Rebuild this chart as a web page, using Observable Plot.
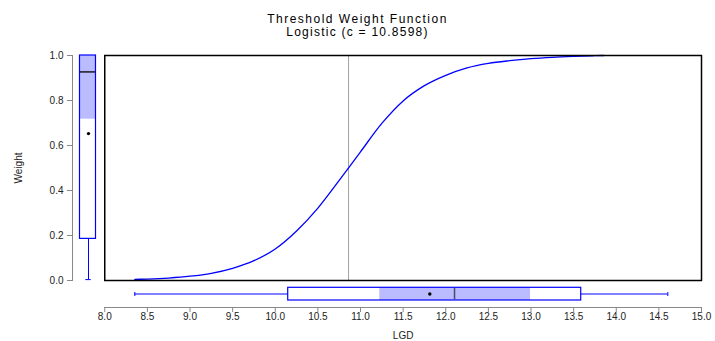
<!DOCTYPE html>
<html>
<head>
<meta charset="utf-8">
<script src="https://cdn.jsdelivr.net/npm/d3@7"></script>
<script src="https://cdn.jsdelivr.net/npm/@observablehq/plot@0.6"></script>
<style>
  body { margin: 0; background: #fff; }
  #chart { position: relative; width: 715px; height: 341px; font-family: "Liberation Sans", Arial, sans-serif; }
  #chart svg { position: absolute; left: 0; top: 0; }
  .ttl { position: absolute; left: 0; width: 715px; text-align: center; font-size: 12px; line-height: 12px; color: #000; white-space: nowrap; }
</style>
</head>
<body>
<div id="chart"></div>
<script>
// ---- data ----
const titleText = "Threshold Weight Function";
const subtitleText = "Logistic (c = 10.8598)";
const threshold = 10.8598;

// logistic weight curve (LGD -> weight)
const curveLGD    = [8.353, 8.5, 8.75, 9.0, 9.25, 9.5, 9.75, 10.0, 10.25, 10.5, 10.75, 11.0, 11.25, 11.5, 11.75, 12.0, 12.25, 12.5, 12.75, 13.0, 13.25, 13.5, 13.75, 13.854];
const curveWeight = [0.005, 0.0065, 0.011, 0.019, 0.032, 0.054, 0.088, 0.140, 0.220, 0.322, 0.445, 0.572, 0.698, 0.798, 0.866, 0.912, 0.945, 0.965, 0.977, 0.986, 0.992, 0.996, 0.999, 1.0];

// LGD box plot (bottom)
const lgdWhisker = [8.353, 14.605];
const lgdBox     = [10.152, 13.589];
const lgdShade   = [11.226, 12.994];
const lgdMedian  = [12.103];
const lgdMean    = [11.813];

// Weight box plot (left)
const wWhisker = [0.004, 1.0];
const wBox     = [0.185, 1.0];
const wShade   = [0.717, 1.0];
const wMedian  = [0.927];
const wMean    = [0.653];

const xTicks = [8, 8.5, 9, 9.5, 10, 10.5, 11, 11.5, 12, 12.5, 13, 13.5, 14, 14.5, 15];
const yTicks = [0, 0.2, 0.4, 0.6, 0.8, 1.0];

// ---- layout ----
const W = 715, H = 341;
const mL = 104.25, mR = 14, mT = 55, mB = 61;
const BLUE = "#0000ff", SHADE = "#bbbbff", AXIS = "#888888", TXT = "#222222";
const fmt = d3.format(".1f");
const baseStyle = { background: "transparent", fontFamily: "'Liberation Sans', Arial, sans-serif", fontSize: "10px", overflow: "visible" };

const curve = curveLGD.map((x, i) => ({ lgd: x, w: curveWeight[i] }));
const chart = document.getElementById("chart");

// main panel
const main = Plot.plot({
  width: W, height: H, marginLeft: mL, marginRight: mR, marginTop: mT, marginBottom: mB,
  style: baseStyle,
  x: { domain: [8, 15], axis: null },
  y: { domain: [0, 1], axis: null },
  marks: [
    Plot.ruleX([threshold], { stroke: "#a0a0a0", strokeWidth: 1 }),
    Plot.line(curve, { x: "lgd", y: "w", stroke: BLUE, strokeWidth: 1.3, curve: "monotone-x" }),
    Plot.frame({ stroke: "#000", strokeWidth: 1.5 })
  ]
});

// bottom: LGD box plot + x axis
const band = ["LGD"];
const bottom = Plot.plot({
  width: W, height: H, marginLeft: mL, marginRight: mR, marginTop: 280, marginBottom: 34,
  style: baseStyle,
  x: { domain: [8, 15] },
  y: { type: "band", domain: band, padding: 0, axis: null },
  marks: [
    Plot.axisX({ anchor: "bottom", ticks: xTicks, tickFormat: fmt, tickSize: 5, tickPadding: 0.5, stroke: AXIS, color: TXT,
      label: "LGD", labelAnchor: "center", labelArrow: "none", labelOffset: 31, fontSize: 10 }),
    Plot.frame({ anchor: "bottom", stroke: AXIS }),
    Plot.ruleY(band, { x1: lgdWhisker[0], x2: lgdWhisker[1], stroke: BLUE, strokeWidth: 1 }),
    Plot.tickX(lgdWhisker, { x: d => d, y: () => "LGD", stroke: BLUE, insetTop: 12, insetBottom: 11 }),
    Plot.barX([lgdBox], { x1: d => d[0], x2: d => d[1], y: () => "LGD", fill: "white", insetTop: 7.3, insetBottom: 7 }),
    Plot.barX([lgdShade], { x1: d => d[0], x2: d => d[1], y: () => "LGD", fill: SHADE, insetTop: 7.3, insetBottom: 7 }),
    Plot.barX([lgdBox], { x1: d => d[0], x2: d => d[1], y: () => "LGD", fill: "none", stroke: BLUE, strokeWidth: 1.2, insetTop: 7.3, insetBottom: 7 }),
    Plot.tickX(lgdMedian, { x: d => d, y: () => "LGD", stroke: "#4a4a6a", strokeWidth: 1.5, insetTop: 7.8, insetBottom: 7.5 }),
    Plot.dot(lgdMean, { x: d => d, y: () => "LGD", r: 1.7, fill: "#000", stroke: "none" })
  ]
});

// left: Weight box plot + y axis
const lband = ["Weight"];
const left = Plot.plot({
  width: 104, height: H, marginLeft: 72, marginRight: 0, marginTop: mT, marginBottom: mB,
  style: baseStyle,
  x: { type: "band", domain: lband, padding: 0, axis: null },
  y: { domain: [0, 1] },
  marks: [
    Plot.axisY({ anchor: "left", ticks: yTicks, tickFormat: fmt, tickSize: 5, tickPadding: 4, stroke: AXIS, color: TXT,
      label: "Weight", labelAnchor: "center", labelArrow: "none", labelOffset: 58, fontSize: 10 }),
    Plot.frame({ anchor: "left", stroke: AXIS }),
    Plot.ruleX(lband, { y1: wWhisker[0], y2: wWhisker[1], stroke: BLUE, strokeWidth: 1 }),
    Plot.tickY(wWhisker, { y: d => d, x: () => "Weight", stroke: BLUE, insetLeft: 13.3, insetRight: 13.3 }),
    Plot.barY([wBox], { y1: d => d[0], y2: d => d[1], x: () => "Weight", fill: "white", insetLeft: 7.5, insetRight: 8.5 }),
    Plot.barY([wShade], { y1: d => d[0], y2: d => d[1], x: () => "Weight", fill: SHADE, insetLeft: 7.5, insetRight: 8.5 }),
    Plot.barY([wBox], { y1: d => d[0], y2: d => d[1], x: () => "Weight", fill: "none", stroke: BLUE, strokeWidth: 1.2, insetLeft: 7.5, insetRight: 8.5 }),
    Plot.tickY(wMedian, { y: d => d, x: () => "Weight", stroke: "#000", strokeWidth: 1.3, insetLeft: 8, insetRight: 9 }),
    Plot.dot(wMean, { y: d => d, x: () => "Weight", r: 1.7, fill: "#000", stroke: "none" })
  ]
});

chart.appendChild(main);
chart.appendChild(bottom);
chart.appendChild(left);

const t1 = document.createElement("div");
t1.className = "ttl"; t1.style.top = "12.5px"; t1.style.letterSpacing = "1.5px"; t1.textContent = titleText;
const t2 = document.createElement("div");
t2.className = "ttl"; t2.style.top = "25.5px"; t2.style.letterSpacing = "1.25px"; t2.textContent = subtitleText;
chart.appendChild(t1);
chart.appendChild(t2);
</script>
</body>
</html>
